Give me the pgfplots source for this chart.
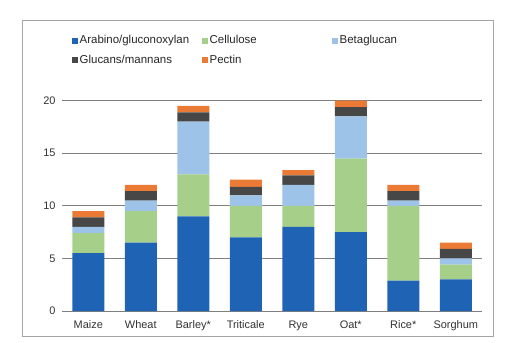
\documentclass[border=0pt]{standalone}
\usepackage{fontspec}
\setmainfont{Liberation Sans}
\usepackage{pgfplots}
\pgfplotsset{compat=1.18}
\definecolor{cA}{HTML}{1F63B5}
\definecolor{cB}{HTML}{A6CF8A}
\definecolor{cC}{HTML}{9DC3E8}
\definecolor{cD}{HTML}{474747}
\definecolor{cE}{HTML}{EB7A34}
\definecolor{gridc}{HTML}{7F7F7F}
\begin{document}
\begin{tikzpicture}[x=1bp,y=1bp]
\path[use as bounding box] (0,0) rectangle (512,342);
\draw[color=gridc!70, line width=0.8bp] (22,6) rectangle (493,322);
\begin{axis}[
  at={(88.25bp,31bp)}, anchor=origin,
  scale only axis,
  width=420bp, height=210.3bp,
  ybar stacked, bar width=32bp,
  xmin=-0.5, xmax=7.5, ymin=0, ymax=20,
  clip=false,
  axis line style={draw=none},
  xtick={0,...,7},
  xticklabels={Maize,Wheat,Barley*,Triticale,Rye,Oat*,Rice*,Sorghum},
  ytick={0,5,10,15,20},
  ymajorgrids, grid style={gridc, line width=1bp},
  major tick length=0pt,
  tick label style={font=\fontsize{11}{12}\selectfont, text=black!80},
  yticklabel style={xshift=-3bp},
  xticklabel style={yshift=-6bp},
  /pgf/number format/assume math mode=true,
  legend columns=3,
  legend style={draw=none, fill=none, at={(7bp,279bp)}, anchor=north west,
    font=\fontsize{11.5}{13}\selectfont, text=black!85,
    nodes={text width=118bp, inner sep=1.5bp, anchor=west},
    /tikz/every even column/.append style={column sep=3bp},
    row sep=6.5bp},
  legend image code/.code={\fill[#1] (0bp,-3bp) rectangle (6bp,3bp);},
]
\addplot[fill=cA, draw=none] coordinates {(0,5.5) (1,6.5) (2,9) (3,7) (4,8) (5,7.5) (6,2.9) (7,3)};
\addplot[fill=cB, draw=none] coordinates {(0,1.9) (1,3.0) (2,4) (3,3) (4,2) (5,7) (6,7.1) (7,1.4)};
\addplot[fill=cC, draw=none] coordinates {(0,0.6) (1,1.0) (2,5) (3,1) (4,2) (5,4) (6,0.5) (7,0.6)};
\addplot[fill=cD, draw=none] coordinates {(0,0.9) (1,0.9) (2,0.9) (3,0.8) (4,0.9) (5,0.9) (6,0.9) (7,0.9)};
\addplot[fill=cE, draw=none] coordinates {(0,0.6) (1,0.6) (2,0.6) (3,0.7) (4,0.5) (5,0.6) (6,0.6) (7,0.6)};
\legend{Arabino/gluconoxylan,Cellulose,Betaglucan,Glucans/mannans,Pectin}
\end{axis}
\end{tikzpicture}
\end{document}
